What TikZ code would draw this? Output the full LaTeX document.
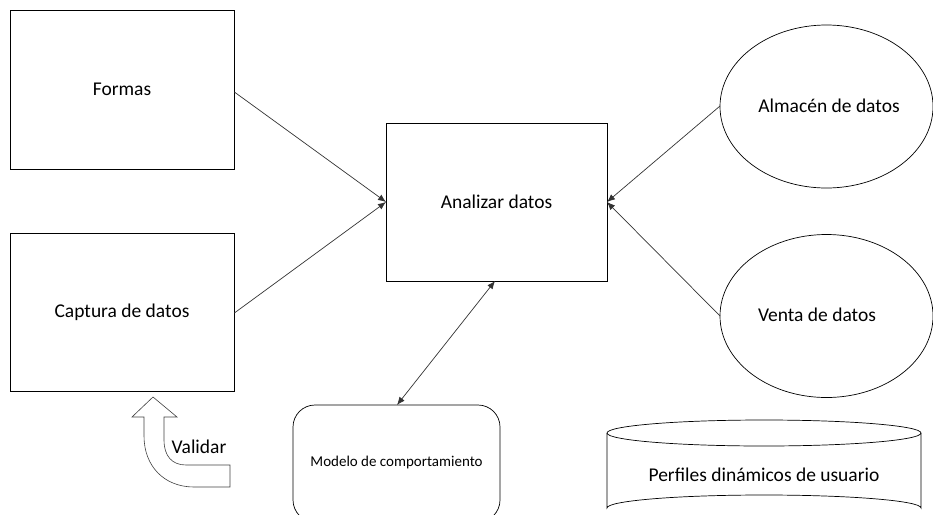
\documentclass[tikz,border=0pt]{standalone}
\usepackage{fontspec}
\setmainfont{Carlito}
\usetikzlibrary{arrows.meta}
\begin{document}
\begin{tikzpicture}[x=1pt,y=-1pt,
  box/.style={draw=black,line width=0.7pt},
  tip/.tip={Latex[length=8pt,width=6.5pt]},
  conn/.style={draw=black!80,line width=0.7pt,-tip},
  lbl/.style={font=\fontsize{19.5}{23}\selectfont}]
\useasboundingbox (0,0) rectangle (933,514);
\clip (0,0) rectangle (933,514);

% rectangles
\node[box,minimum width=224pt,minimum height=159pt,lbl] (formas) at (122,89.5) {Formas};
\node[box,minimum width=224pt,minimum height=158pt,lbl] (captura) at (122,312) {Captura de datos};
\node[box,minimum width=221pt,minimum height=158pt,lbl] (analizar) at (496.5,202) {Analizar datos};

% ellipses
\draw[box] (826.5,106.5) ellipse [x radius=106.5,y radius=81.5];
\node[lbl] (almacen) at (829,106) {Almacén de datos};
\coordinate (almL) at (720,106);
\draw[box] (826.5,316) ellipse [x radius=106.5,y radius=81.5];
\node[lbl] (venta) at (817,315) {Venta de datos};
\coordinate (venL) at (720,316);

% rounded box
\draw[box,rounded corners=22pt] (293,405) rectangle (500,522);
\node[font=\fontsize{15}{18}\selectfont] (modelo) at (396.5,462) {Modelo de comportamiento};
\coordinate (modT) at (397,405);

% cylinder
\draw[box] (607,433) -- (607,508) arc[start angle=180,end angle=360,x radius=157,y radius=13] -- (921,433);
\draw[box] (764,433) ellipse [x radius=157,y radius=13];
\node[lbl] (perfiles) at (764,475) {Perfiles dinámicos de usuario};

% connectors
\coordinate (anL) at (386,202);
\coordinate (anR) at (607,202);
\coordinate (anB) at (495,281);
\draw[conn] (formas.east |- 0,92) -- (anL);
\draw[conn] (captura.east |- 0,313) -- (anL);
\draw[conn] (almL) -- (anR);
\draw[conn] (venL) -- (anR);
\draw[conn,tip-tip] (anB) -- (modT);

% validation arrow
\draw[line width=0.6pt,draw=black!75] (230,465) -- (186,465)
  .. controls (172,465) and (164,456) .. (164,440) -- (164,417) -- (177,417)
  -- (153,397) -- (132,417) -- (144,417) -- (144,436)
  .. controls (144,466) and (164,487) .. (194,487) -- (230,487) -- cycle;
\node[lbl] (validar) at (199,447) {Validar};
\end{tikzpicture}
\end{document}
